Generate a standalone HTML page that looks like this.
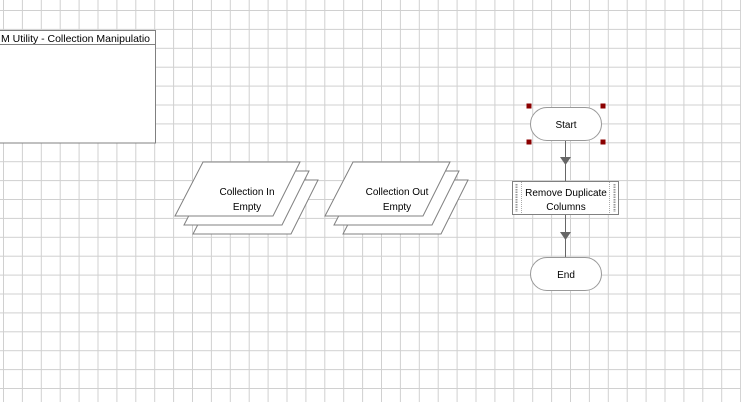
<!DOCTYPE html>
<html><head><style>
html,body{margin:0;padding:0;width:741px;height:402px;overflow:hidden;background:#fff}
svg{display:block}
text{font-family:"Liberation Sans",sans-serif;font-size:10px;fill:#000}
</style></head><body>
<svg width="741" height="402" xmlns="http://www.w3.org/2000/svg">
<defs>
<pattern id="gp" x="3" y="10" width="18.9" height="18.9" patternUnits="userSpaceOnUse">
<path d="M0.5 0 V18.9 M0 0.5 H18.9" stroke="#d0d0d0" stroke-width="1" fill="none"/>
</pattern>
</defs>
<rect x="0" y="0" width="741" height="402" fill="url(#gp)"/>
<!-- left box -->
<rect x="-2" y="30.5" width="157.5" height="112.5" fill="#fff" stroke="#808080"/>
<line x1="0" y1="44.5" x2="155" y2="44.5" stroke="#808080"/>
<text x="1" y="42" style="font-size:10.5px" textLength="149" lengthAdjust="spacing">M  Utility  -  Collection Manipulatio</text>
<!-- Collection In -->
<g fill="#fff" stroke="#808080">
<polygon points="221,180 318,180 291,234 193,234"/>
<polygon points="212,171 309,171 282,225 184,225"/>
<polygon points="203,162 300,162 273,216 175,216"/>
</g>
<text x="247" y="195" text-anchor="middle">Collection In</text>
<text x="247" y="210" text-anchor="middle">Empty</text>
<!-- Collection Out -->
<g fill="#fff" stroke="#808080">
<polygon points="371,180 468,180 441,234 343,234"/>
<polygon points="362,171 459,171 432,225 334,225"/>
<polygon points="353,162 450,162 423,216 325,216"/>
</g>
<text x="397" y="195" text-anchor="middle">Collection Out</text>
<text x="397" y="210" text-anchor="middle">Empty</text>
<!-- connectors -->
<line x1="565.5" y1="141" x2="565.5" y2="181" stroke="#666"/>
<polygon points="560,157 571,157 565.5,165" fill="#666"/>
<line x1="565.5" y1="215" x2="565.5" y2="257" stroke="#666"/>
<polygon points="560,232 571,232 565.5,240" fill="#666"/>
<!-- start -->
<rect x="530.5" y="107.5" width="71" height="33" rx="16.5" fill="#fff" stroke="#999"/>
<text x="566" y="128" text-anchor="middle">Start</text>
<g fill="#8b0000"><rect x="526.5" y="103.5" width="5" height="5"/><rect x="600.5" y="103.5" width="5" height="5"/><rect x="526.5" y="139.5" width="5" height="5"/><rect x="600.5" y="139.5" width="5" height="5"/></g>
<!-- process -->
<rect x="512.5" y="181.5" width="106" height="33" fill="#fff" stroke="#808080"/>
<line x1="521.5" y1="182" x2="521.5" y2="214" stroke="#aaa" stroke-dasharray="1,1"/>
<line x1="609.5" y1="182" x2="609.5" y2="214" stroke="#aaa" stroke-dasharray="1,1"/>
<line x1="516.5" y1="184" x2="516.5" y2="212" stroke="#999" stroke-width="2" stroke-dasharray="1.5,1"/>
<line x1="614.5" y1="184" x2="614.5" y2="212" stroke="#999" stroke-width="2" stroke-dasharray="1.5,1"/>
<text x="566" y="196" text-anchor="middle">Remove Duplicate</text>
<text x="566" y="210" text-anchor="middle">Columns</text>
<!-- end -->
<rect x="530.5" y="257.5" width="71" height="33" rx="16.5" fill="#fff" stroke="#999"/>
<text x="566" y="278" text-anchor="middle">End</text>
</svg>
</body></html>
